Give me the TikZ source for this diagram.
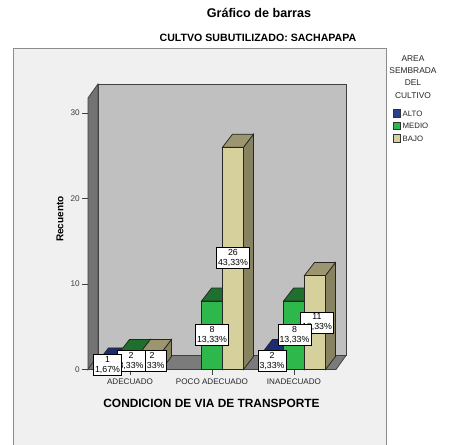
\documentclass[tikz,border=0pt]{standalone}
\usepackage{fontspec}
\setmainfont{Liberation Sans}
\definecolor{framebg}{HTML}{F0F0F0}
\definecolor{frameline}{HTML}{8C8C8C}
\definecolor{backwall}{HTML}{C0C0C0}
\definecolor{sidewall}{HTML}{737373}
\definecolor{floorc}{HTML}{7B7B7B}
\definecolor{altof}{HTML}{2B3F8F}
\definecolor{altot}{HTML}{1C2C6E}
\definecolor{mediof}{HTML}{2EB84B}
\definecolor{mediot}{HTML}{1F6F2E}
\definecolor{bajof}{HTML}{D6D09C}
\definecolor{bajot}{HTML}{9C9670}
\definecolor{bajos}{HTML}{878260}
\definecolor{ticktext}{HTML}{404040}
\newcommand{\barthreed}[5]{%
  \pgfmathsetmacro\myyt{369.5-8.55*#2}%
  \pgfmathsetmacro\myxr{#1+21}%
  \filldraw[barline, fill=#5] (\myxr,\myyt) -- ++(10,-13) -- (\myxr+10,356.5) -- (\myxr,369.5) -- cycle;
  \filldraw[barline, fill=#4] (#1,\myyt) -- ++(10,-13) -- (\myxr+10,\myyt-13) -- (\myxr,\myyt) -- cycle;
  \filldraw[barline, fill=#3] (#1,\myyt) rectangle (\myxr,369.5);
}
\tikzset{
  barline/.style={draw=black!85, line width=0.75pt, line join=miter},
  wall/.style={draw=black!75, line width=0.8pt},
  vallab/.style={draw=black, fill=white, line width=0.6pt, font=\fontsize{8.8}{10}\selectfont,
    align=center, inner xsep=1.6pt, inner ysep=1.8pt},
  ticklab/.style={font=\fontsize{8.2}{9}\selectfont, text=ticktext, anchor=east, inner sep=1pt},
  catlab/.style={font=\fontsize{8.1}{9}\selectfont, text=black!85, inner sep=0pt},
  legtext/.style={font=\fontsize{8.4}{12.2}\selectfont, text=black!85, align=center, inner sep=0pt},
  legswatch/.style={draw=black!80, line width=0.6pt, minimum size=7.5pt, inner sep=0pt},
  legitem/.style={font=\fontsize{7.8}{8}\selectfont, text=black!85, anchor=west, inner sep=0pt}
}
\begin{document}
\begin{tikzpicture}[x=1pt, y=-1pt]
\useasboundingbox (0,0) rectangle (459,445);
\fill[white] (0,0) rectangle (459,445);
% titles
\node[font=\bfseries\fontsize{12.6}{14}\selectfont] (title) at (259,13) {Gráfico de barras};
\node[font=\bfseries\fontsize{10.6}{12}\selectfont] (subtitle) at (258,38) {CULTVO SUBUTILIZADO: SACHAPAPA};
% frame
\filldraw[fill=framebg, draw=frameline, line width=0.8pt] (13,48) rectangle (386,445);
% walls
\filldraw[wall, fill=backwall] (98,84) rectangle (346,355.5);
\filldraw[wall, fill=sidewall] (88,98) -- (98,84) -- (98,355.5) -- (88,369.5) -- cycle;
\filldraw[wall, fill=floorc] (88,369.5) -- (98,355.5) -- (346,355.5) -- (336,369.5) -- cycle;
% y ticks
\foreach \v/\nm in {0/yt0,10/yt1,20/yt2,30/yt3}{
  \pgfmathsetmacro\yy{369.5-8.55*\v}
  \draw[black!75, line width=0.7pt] (82,\yy) -- (88,\yy);
  \node[ticklab] (\nm) at (81,\yy) {\v};
}
\node[rotate=90, font=\bfseries\fontsize{10}{11}\selectfont] (ylab) at (60,219) {Recuento};
% x ticks
\foreach \c/\nm/\t in {130/xa/ADECUADO,212/xp/POCO ADECUADO,294/xi/INADECUADO}{
  \draw[black!75, line width=0.7pt] (\c,369.5) -- (\c,375);
  \node[catlab] (\nm) at (\c,382) {\t};
}
\node[font=\bfseries\fontsize{11.9}{13}\selectfont] (xlab) at (211.5,403) {CONDICION DE VIA DE TRANSPORTE};
% bars: ADECUADO
\barthreed{98.5}{1}{altof}{altot}{altot}
\barthreed{119.5}{2}{mediof}{mediot}{mediot}
\barthreed{140.5}{2}{bajof}{bajot}{bajos}
% POCO ADECUADO
\barthreed{201.5}{8}{mediof}{mediot}{mediot}
\barthreed{222.5}{26}{bajof}{bajot}{bajos}
% INADECUADO
\barthreed{262.5}{2}{altof}{altot}{altot}
\barthreed{283.5}{8}{mediof}{mediot}{mediot}
\barthreed{304.5}{11}{bajof}{bajot}{bajos}
% value labels
\node[vallab] (la3) at (152,361) {2\\3,33\%};
\node[vallab] (la2) at (131,361) {2\\3,33\%};
\node[vallab] (la1) at (107.5,365) {1\\1,67\%};
\node[vallab] (lp2) at (233,258) {26\\43,33\%};
\node[vallab] (lp1) at (212,335) {8\\13,33\%};
\node[vallab] (li3) at (317,322.5) {11\\18,33\%};
\node[vallab] (li2) at (294.5,335) {8\\13,33\%};
\node[vallab] (li1) at (272,360.5) {2\\3,33\%};
% legend
\node[legtext] (legtitle) at (413,77) {AREA\\SEMBRADA\\DEL\\CULTIVO};
\node[legswatch, fill=altof] (sw1) at (397,113.5) {};
\node[legswatch, fill=mediof] (sw2) at (397,126) {};
\node[legswatch, fill=bajof] (sw3) at (397,138.5) {};
\node[legitem] (lg1) at (402.5,113.5) {ALTO};
\node[legitem] (lg2) at (402.5,126) {MEDIO};
\node[legitem] (lg3) at (402.5,138.5) {BAJO};
\end{tikzpicture}
\end{document}
